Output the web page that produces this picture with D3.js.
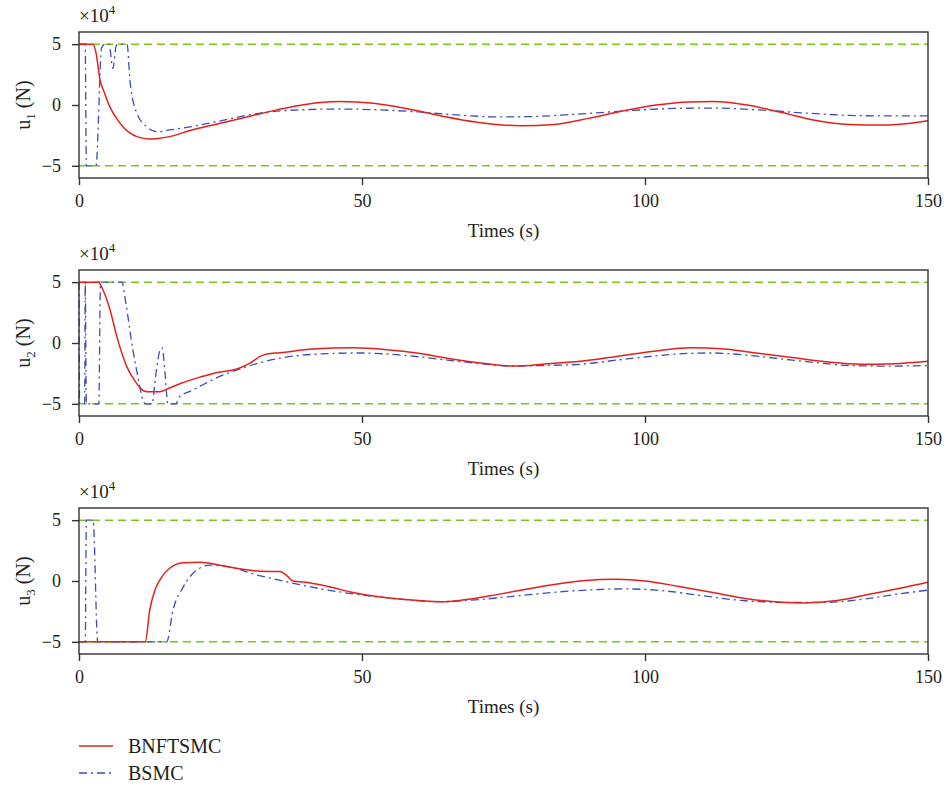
<!DOCTYPE html>
<html lang="en">
<head>
  <meta charset="UTF-8">
  <title>Control input u1, u2, u3</title>
  <script src="https://cdn.jsdelivr.net/npm/d3@7"></script>
  <style>
    body { margin: 0; background: #fff; }
    svg text { font-family: "Liberation Serif", "Times New Roman", "DejaVu Serif", serif !important; fill: #231f20; }
  </style>
</head>
<body>
<div id="chart"></div>
<script>
  // tick values and series names
  var xTicks = [0, 50, 100, 150];
  var yTicks = [-5, 0, 5];
  var limits = [-5, 5];
  var seriesNames = ["BNFTSMC", "BSMC"];
  var panelLabels = ["1", "2", "3"];

  // [time (s), force (x10^4 N)]
  var u1Bnftsmc = [[0,5],[2.5,5],[3.0,4.3],[3.7,2.1],[4.5,1.0],[5.5,-0.2],[6.5,-1.0],[7.8,-1.8],[9,-2.3],[10.2,-2.6],[12.5,-2.8],[14,-2.75],[16,-2.6],[19.6,-2.1],[25,-1.5],[30,-0.95],[35,-0.4],[40,0.05],[46,0.28],[52,0.15],[58,-0.3],[64,-0.9],[70,-1.4],[78,-1.7],[84,-1.6],[90,-1.1],[96,-0.5],[102,0.0],[108,0.25],[112,0.28],[118,0.0],[124,-0.6],[130,-1.25],[136,-1.6],[142,-1.65],[147,-1.5],[150,-1.3]];
  var u1Bsmc = [[0,5],[1.1,5],[1.3,-5],[3.0,-5],[4.0,4.7],[4.6,5],[5.3,5],[6.0,3.0],[6.6,4.9],[7.2,5],[8.5,5],[9.0,2.0],[10.2,-0.65],[12,-1.8],[13.8,-2.2],[16,-2.05],[19.6,-1.8],[25,-1.3],[32,-0.66],[40,-0.38],[46,-0.33],[52,-0.38],[60,-0.57],[68,-0.85],[74,-0.98],[80,-0.95],[88,-0.75],[96,-0.5],[104,-0.3],[112,-0.25],[120,-0.4],[128,-0.65],[136,-0.85],[143,-0.9],[150,-0.9]];

  var u2Bnftsmc = [[0,5],[3.5,5],[4.0,4.6],[5.5,2.7],[6.7,0.5],[8.5,-2.0],[10,-3.2],[10.8,-3.7],[12,-4.0],[14.3,-4.0],[16,-3.7],[17.8,-3.35],[21.4,-2.8],[23.7,-2.5],[28.4,-2.05],[30.2,-1.65],[32,-1.1],[33.2,-0.9],[35.5,-0.8],[41.3,-0.5],[48.4,-0.4],[54.4,-0.55],[60,-0.85],[65,-1.25],[72,-1.7],[77,-1.9],[82.7,-1.7],[88.5,-1.5],[95,-1.1],[102,-0.65],[108,-0.4],[114,-0.5],[120,-0.85],[126,-1.2],[132,-1.55],[138,-1.75],[144,-1.7],[150,-1.5]];
  var u2Bsmc = [[0,5],[0.1,-5],[1.0,-5],[1.1,5],[1.3,-5],[3.5,-5],[3.8,5],[7.6,5],[8.2,3.5],[9.5,-0.5],[10.5,-3.0],[11.3,-4.7],[11.7,-5],[12.9,-5],[13.6,-2.5],[14.3,-0.6],[14.7,-0.4],[15.2,-2.5],[15.7,-5],[17.1,-5],[17.8,-4.4],[19.5,-4.0],[21.4,-3.55],[23.7,-3.0],[29.6,-1.95],[35.5,-1.25],[42.6,-0.9],[49.6,-0.82],[56.6,-0.98],[65,-1.4],[70,-1.65],[76.7,-1.9],[82,-1.85],[88.5,-1.75],[96,-1.35],[102,-1.05],[108,-0.85],[112,-0.82],[118,-1.0],[124,-1.3],[130,-1.6],[136,-1.85],[143,-1.9],[150,-1.85]];

  var u3Bnftsmc = [[0,-5],[11.7,-5],[12.5,-2.4],[13.3,-0.9],[14.3,0.1],[16,1.05],[18.4,1.5],[21.4,1.55],[24.9,1.3],[28.4,1.0],[32,0.8],[35.5,0.78],[36.8,0.4],[37.8,0.0],[40,-0.1],[44,-0.45],[48,-0.9],[54,-1.35],[60,-1.6],[64,-1.7],[68,-1.55],[74,-1.1],[80,-0.6],[86,-0.15],[92,0.12],[95,0.15],[100,0.0],[106,-0.45],[112,-0.95],[118,-1.45],[124,-1.75],[128,-1.8],[134,-1.6],[140,-1.05],[145,-0.6],[150,-0.1]];
  var u3Bsmc = [[0,-5],[1.1,-5],[1.3,5],[2.5,5],[3.3,-5],[15.5,-5],[16.6,-2.4],[18.4,-0.5],[20.8,0.9],[23.1,1.3],[26.7,1.15],[31.4,0.5],[33.7,0.25],[39,-0.3],[44,-0.75],[50,-1.15],[56,-1.45],[63,-1.7],[70,-1.55],[78,-1.2],[86,-0.85],[92,-0.7],[96,-0.65],[102,-0.75],[110,-1.2],[117,-1.6],[124,-1.75],[132,-1.75],[140,-1.4],[145,-1.05],[150,-0.75]];

  var panels = [
    { label: panelLabels[0], red: u1Bnftsmc, blue: u1Bsmc },
    { label: panelLabels[1], red: u2Bnftsmc, blue: u2Bsmc },
    { label: panelLabels[2], red: u3Bnftsmc, blue: u3Bsmc }
  ];

  // layout
  var left = 79, width = 849, height = 146, top0 = 32, step = 238;
  var redColor = "#e5201b", blueColor = "#3c4db8", greenColor = "#79c61a";
  var serif = "'Liberation Serif', 'Times New Roman', 'DejaVu Serif', serif";

  var svg = d3.select("#chart")
    .append("svg")
    .attr("width", 948)
    .attr("height", 788)
    .attr("font-family", serif);

  var x = d3.scaleLinear().domain([0, 150]).range([0, width]);
  var y = d3.scaleLinear().domain([-6, 6]).range([height, 0]);

  var line = d3.line()
    .x(function(d) { return x(d[0]); })
    .y(function(d) { return y(d[1]); })
    .curve(d3.curveMonotoneX);

  panels.forEach(function(p, i) {
    var g = svg.append("g")
      .attr("transform", "translate(" + left + "," + (top0 + i * step) + ")");

    // limit lines at +/-5
    g.selectAll(".limit")
      .data(limits)
      .enter().append("line")
      .attr("x1", 0)
      .attr("x2", width)
      .attr("y1", function(d) { return y(d); })
      .attr("y2", function(d) { return y(d); })
      .attr("stroke", greenColor)
      .attr("stroke-width", 1.5)
      .attr("stroke-dasharray", "8,5");

    // BSMC (dash-dot) then BNFTSMC (solid)
    g.append("path")
      .datum(p.blue)
      .attr("fill", "none")
      .attr("stroke", blueColor)
      .attr("stroke-width", 1.3)
      .attr("stroke-dasharray", "8,4,2,4")
      .attr("d", line);

    g.append("path")
      .datum(p.red)
      .attr("fill", "none")
      .attr("stroke", redColor)
      .attr("stroke-width", 1.5)
      .attr("d", line);

    // frame
    g.append("rect")
      .attr("width", width)
      .attr("height", height)
      .attr("fill", "none")
      .attr("stroke", "#333")
      .attr("stroke-width", 1.4);

    // axes
    var xAxis = g.append("g")
      .attr("transform", "translate(0," + height + ")")
      .call(d3.axisBottom(x).tickValues(xTicks).tickSize(7).tickSizeOuter(0))
      .attr("font-family", serif);
    xAxis.select(".domain").remove();
    xAxis.selectAll("line").attr("stroke", "#333").attr("stroke-width", 1.4);
    xAxis.selectAll("text")
      .attr("y", 29)
      .attr("dy", 0)
      .style("font-family", serif)
      .style("font-size", "18px");

    var yAxis = g.append("g")
      .call(d3.axisLeft(y).tickValues(yTicks).tickSize(7).tickPadding(11).tickSizeOuter(0))
      .attr("font-family", serif);
    yAxis.select(".domain").remove();
    yAxis.selectAll("line").attr("stroke", "#333").attr("stroke-width", 1.4);
    yAxis.selectAll("text")
      .style("font-family", serif)
      .style("font-size", "18px");

    // x axis title
    g.append("text")
      .attr("x", width / 2)
      .attr("y", height + 59)
      .attr("text-anchor", "middle")
      .style("font-family", serif)
      .style("font-size", "19px")
      .text("Times (s)");

    // y axis title u_i (N)
    var yl = g.append("text")
      .attr("transform", "translate(" + (30 - left) + "," + (height / 2) + ") rotate(-90)")
      .attr("text-anchor", "middle")
      .style("font-family", serif)
      .style("font-size", "20px");
    yl.append("tspan").text("u");
    yl.append("tspan").attr("dy", 5).style("font-size", "13px").text(p.label);
    yl.append("tspan").attr("dy", -5).text(" (N)");

    // x10^4 multiplier
    var mult = g.append("text")
      .attr("x", 0)
      .attr("y", -10)
      .style("font-family", serif)
      .style("font-size", "19px");
    mult.append("tspan").text("\u00d710");
    mult.append("tspan").attr("dy", -8).style("font-size", "13px").text("4");
  });

  // legend
  var legend = svg.selectAll(".legend")
    .data(seriesNames)
    .enter().append("g")
    .attr("class", "legend")
    .attr("transform", function(d, i) { return "translate(79," + (746 + i * 27) + ")"; });

  legend.append("line")
    .attr("x1", 0)
    .attr("x2", 34)
    .attr("stroke", function(d, i) { return i === 0 ? redColor : blueColor; })
    .attr("stroke-width", function(d, i) { return i === 0 ? 1.5 : 1.3; })
    .attr("stroke-dasharray", function(d, i) { return i === 0 ? null : "8,4,2,4"; });

  legend.append("text")
    .attr("x", 49)
    .attr("y", 7)
    .style("font-family", serif)
    .style("font-size", "20px")
    .text(function(d) { return d; });
</script>
</body>
</html>
